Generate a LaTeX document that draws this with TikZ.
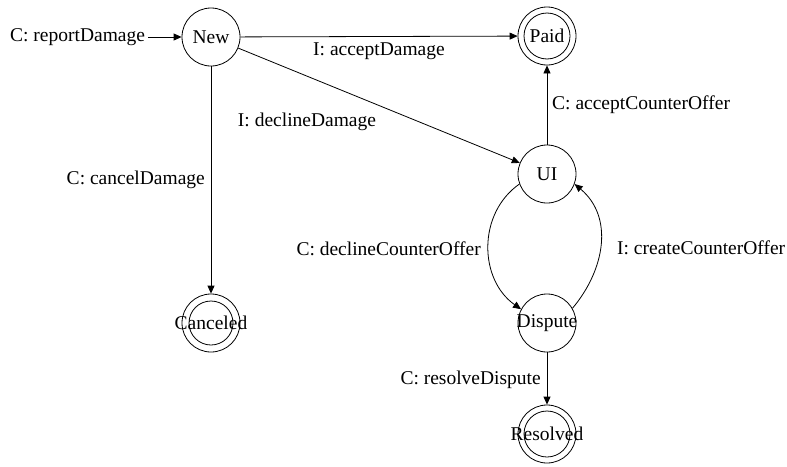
\documentclass[tikz,border=0pt]{standalone}
\usepackage{fontspec}
\setmainfont{Liberation Serif}
\usetikzlibrary{arrows.meta}
\begin{document}
\begin{tikzpicture}[x=1pt,y=1pt,
  every node/.style={font=\fontsize{19.5}{22}\selectfont},
  st/.style={draw, circle, line width=0.8pt, minimum size=58pt, inner sep=0pt},
  lbl/.style={inner sep=0pt},
  arr/.style={line width=0.8pt, -{Triangle[length=8pt,width=7pt]}}]
\useasboundingbox (0,0) rectangle (787,-466);
% states
\node[st] (New) at (211,-37) {};
\node[lbl] at (New) {New};
\node[st] (Paid) at (547,-36) {};
\draw[line width=0.8pt] (Paid.center) circle (23pt);
\node[lbl] at (Paid) {Paid};
\node[st] (UI) at (547,-174) {};
\node[lbl] at (UI) {UI};
\node[st] (Dispute) at (547,-323) {};
\node[lbl] at (Dispute) {Dispute};
\node[st] (Resolved) at (547,-434) {};
\draw[line width=0.8pt] (Resolved.center) circle (23pt);
\node[lbl] at (Resolved) {Resolved};
\node[st] (Canceled) at (211,-323) {};
\draw[line width=0.8pt] (Canceled.center) circle (22pt);
\node[lbl] at (Canceled) {Canceled};
% start
\node[lbl, anchor=east, outer sep=3pt] (start) at (148,-37) {C: reportDamage};
\draw[arr] (start.east) -- (New);
% transitions
\draw[arr] (New) -- (Paid);
\node[lbl] (l1) at (379,-51) {I: acceptDamage};
\draw[arr] (New) -- (UI);
\node[lbl] (l2) at (307,-122) {I: declineDamage};
\draw[arr] (New) -- (Canceled);
\node[lbl, anchor=east] (l3) at (205,-180) {C: cancelDamage};
\draw[arr] (UI) -- (Paid);
\node[lbl, anchor=west] (l4) at (552,-105) {C: acceptCounterOffer};
\draw[arr] (UI.200) to[out=215, in=145, looseness=1.05] (Dispute.152);
\node[lbl, anchor=east] (l5) at (481,-249) {C: declineCounterOffer};
\draw[arr] (Dispute.30) to[out=50, in=-40, looseness=1.05] (UI.-20);
\node[lbl, anchor=west] (l6) at (617,-248) {I: createCounterOffer};
\draw[arr] (Dispute) -- (Resolved);
\node[lbl, anchor=east] (l7) at (541,-380) {C: resolveDispute};
\end{tikzpicture}
\end{document}
